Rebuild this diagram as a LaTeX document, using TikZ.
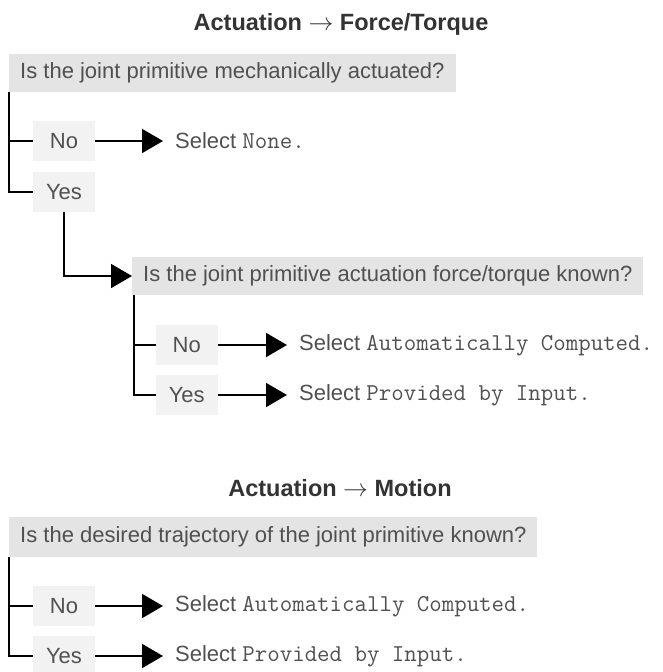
\documentclass[tikz,border=0pt]{standalone}
\usepackage{fontspec}
\setmainfont{Liberation Sans}
\usetikzlibrary{arrows.meta}
\definecolor{qgray}{HTML}{E4E4E4}
\definecolor{agray}{HTML}{F2F2F2}
\definecolor{txtgray}{HTML}{505050}
\newcommand\monotext[1]{{\fontsize{24.2}{28}\selectfont\ttfamily #1}}
\tikzset{
  question/.style={fill=qgray,anchor=west,minimum height=38pt,inner xsep=11pt,text=txtgray},
  answer/.style={fill=agray,minimum width=62pt,minimum height=40pt,inner sep=0pt,text=txtgray},
  result/.style={anchor=west,inner xsep=12pt,inner ysep=0pt,text=txtgray},
  heading/.style={font=\fontsize{23.5}{28}\selectfont\bfseries,text=black!80},
  branch/.style={line width=1.8pt},
  pick/.style={line width=1.8pt,-{Triangle[length=21pt,width=24pt]}}
}
\begin{document}
\begin{tikzpicture}[x=1pt,y=-1pt,font=\fontsize{22}{26}\selectfont]
  \useasboundingbox (0,0) rectangle (663,672);
  % actuation -> force/torque
  \node[heading] (ft) at (341,24) {Actuation $\rightarrow$ Force/Torque};
  \node[question] (q1) at (9,73) {Is the joint primitive mechanically actuated?};
  \node[answer] (no1) at (64,141) {No};
  \node[answer] (yes1) at (64,192) {Yes};
  \node[result] (none) at (163,141) {Select \monotext{None.}};
  \draw[branch] (q1.south west) |- (yes1.west);
  \draw[branch] (q1.south west |- no1.west) -- (no1.west);
  \draw[pick] (no1.east) -- (none.west);
  \node[question] (q2) at (132,276) {Is the joint primitive actuation force/torque known?};
  \draw[pick] (yes1.south) |- (q2.west);
  \node[answer] (no2) at (186.7,345) {No};
  \node[answer] (yes2) at (186.7,395) {Yes};
  \node[result] (auto1) at (287,345) {Select \monotext{Automatically Computed.}};
  \node[result] (input1) at (287,395) {Select \monotext{Provided by Input.}};
  \draw[branch] ([xshift=2pt]q2.south west) |- (yes2.west);
  \draw[branch] ([xshift=2pt]q2.south west |- no2.west) -- (no2.west);
  \draw[pick] (no2.east) -- (auto1.west);
  \draw[pick] (yes2.east) -- (input1.west);
  % actuation -> motion
  \node[heading] (mo) at (340,488) {Actuation $\rightarrow$ Motion};
  \node[question,minimum height=40pt] (q3) at (9,537) {Is the desired trajectory of the joint primitive known?};
  \node[answer] (no3) at (64,606) {No};
  \node[answer] (yes3) at (64,656) {Yes};
  \node[result] (auto2) at (163,606) {Select \monotext{Automatically Computed.}};
  \node[result] (input2) at (163,656) {Select \monotext{Provided by Input.}};
  \draw[branch] (q3.south west) |- (yes3.west);
  \draw[branch] (q3.south west |- no3.west) -- (no3.west);
  \draw[pick] (no3.east) -- (auto2.west);
  \draw[pick] (yes3.east) -- (input2.west);
\end{tikzpicture}
\end{document}
